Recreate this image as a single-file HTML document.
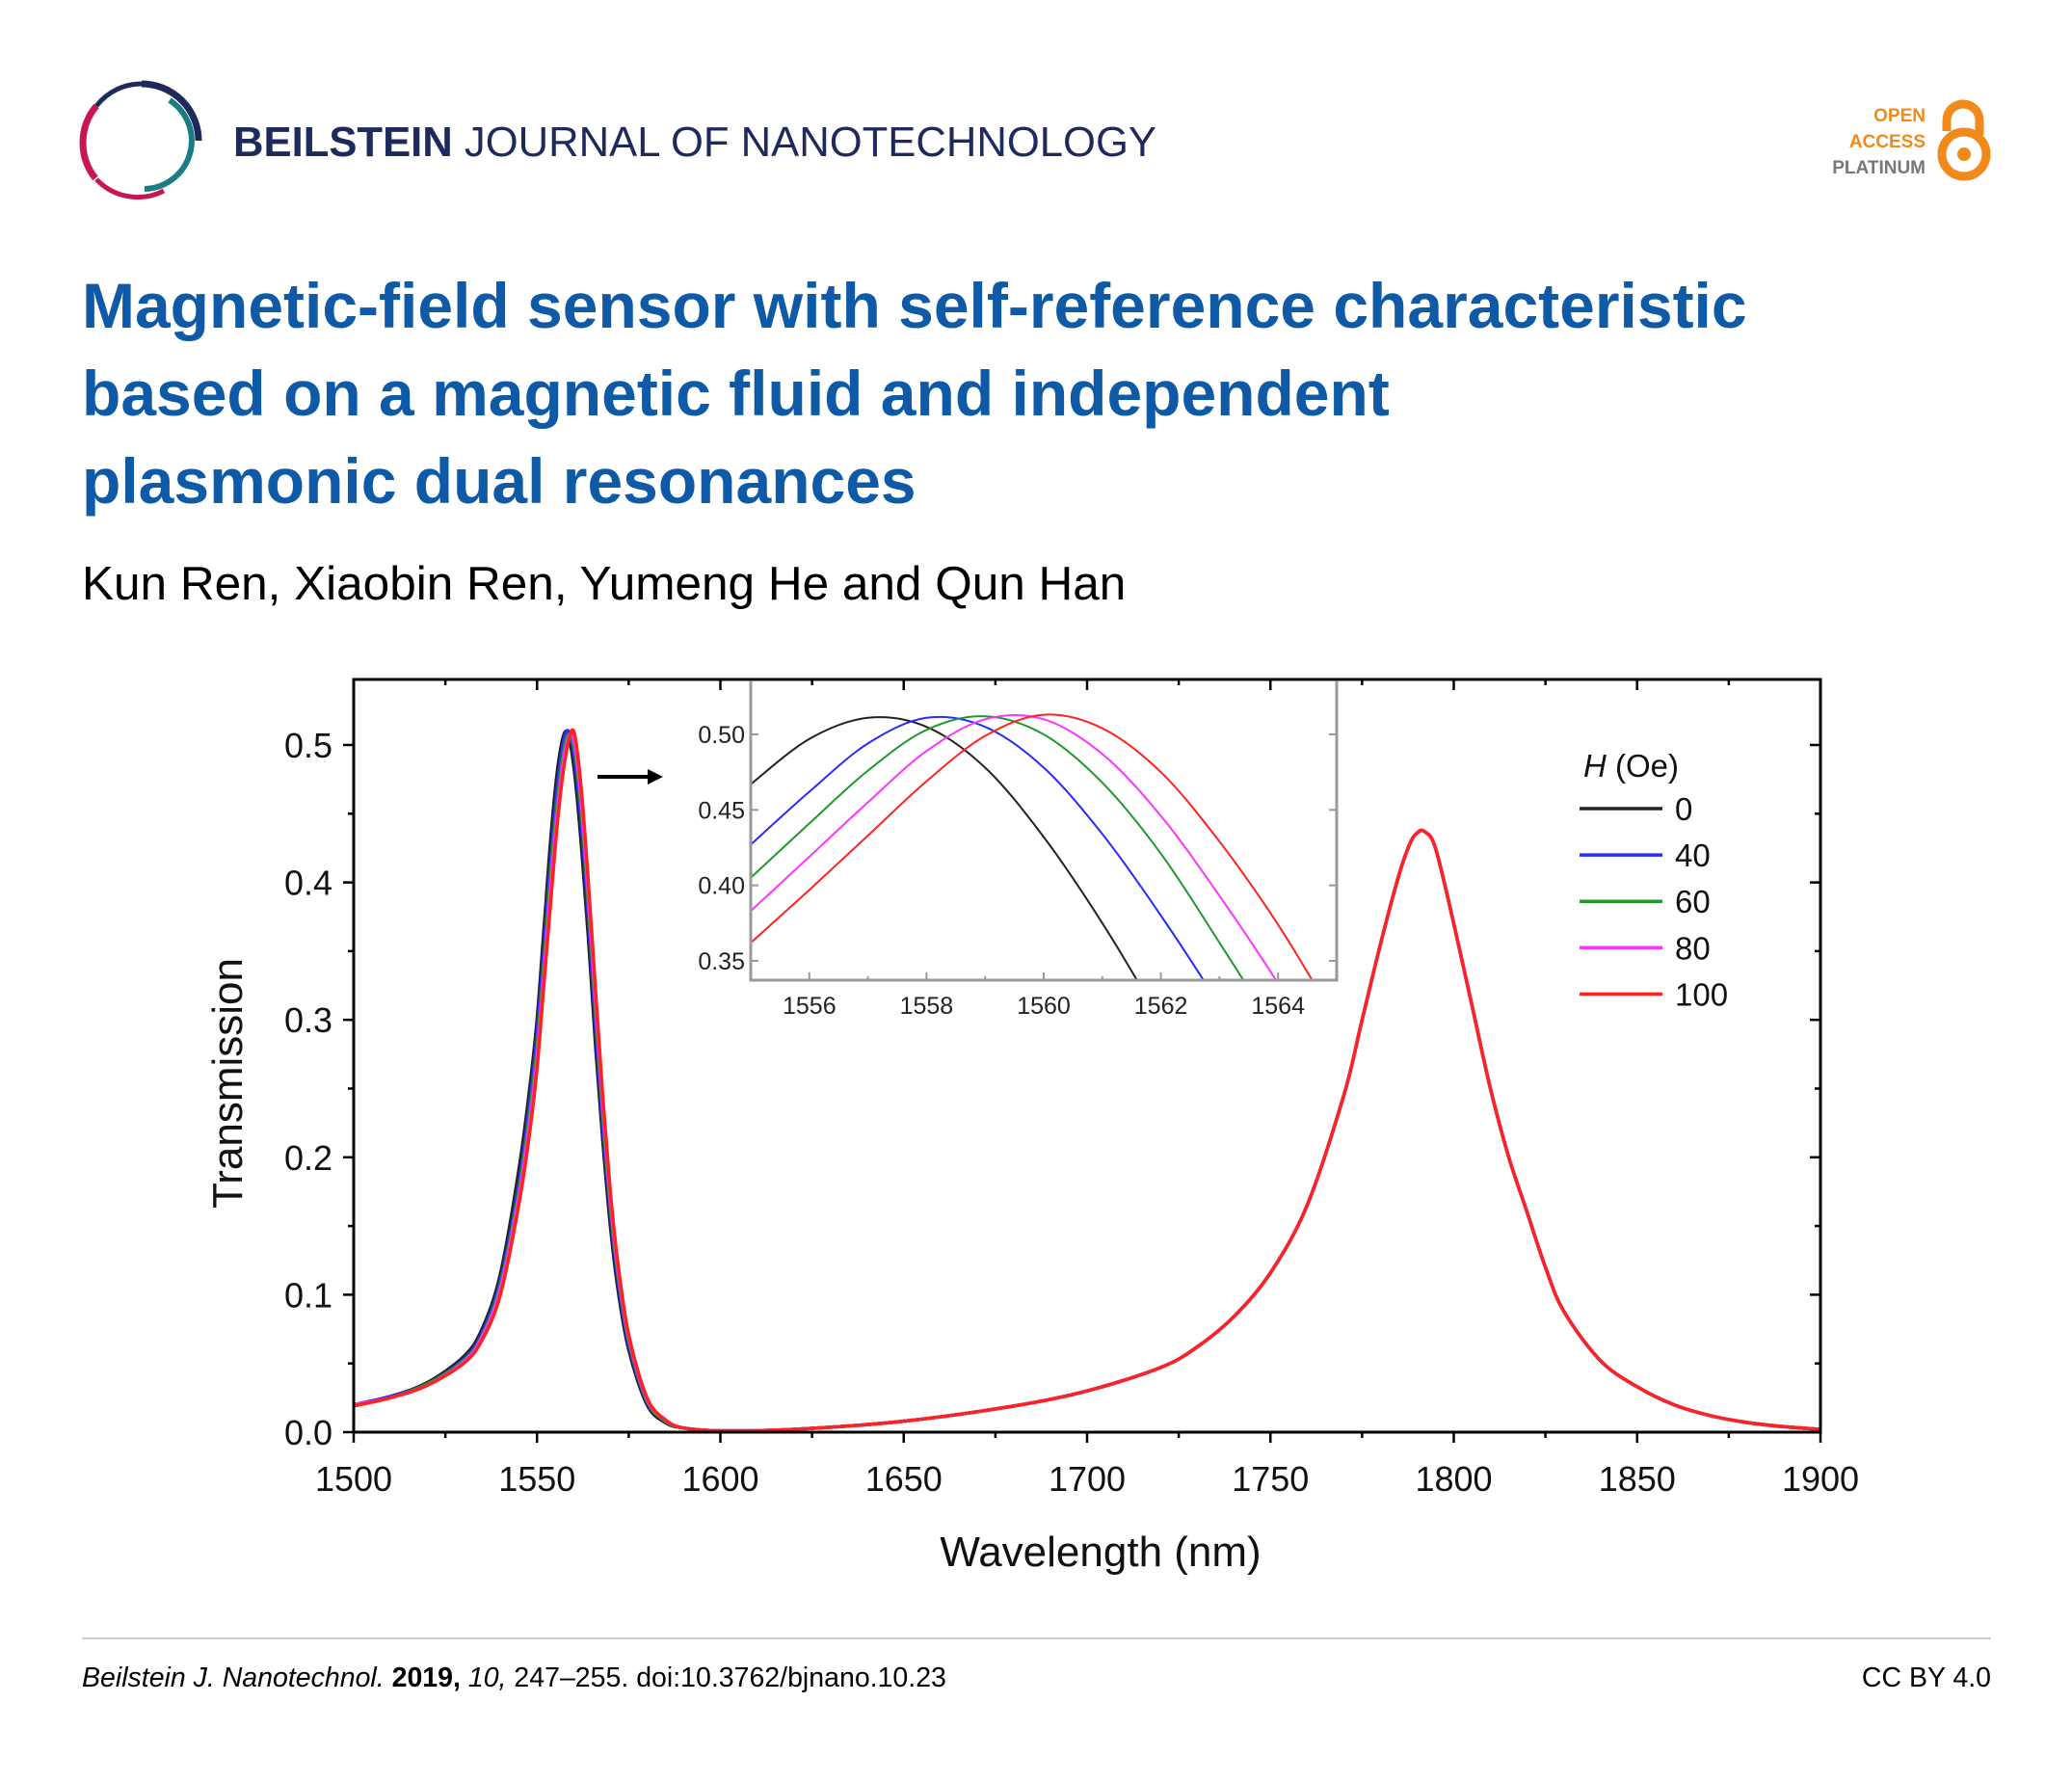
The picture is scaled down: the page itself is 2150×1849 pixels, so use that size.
<!DOCTYPE html>
<html><head><meta charset="utf-8"><style>
html,body{margin:0;padding:0;background:#fff;}
body{width:2150px;height:1849px;position:relative;overflow:hidden;font-family:"Liberation Sans",Arial,sans-serif;}
svg{position:absolute;left:0;top:0;}
</style></head><body>
<svg id="page" width="2150" height="1849" viewBox="0 0 2150 1849">
 <g>
  <path d="M147 87 A59 59 0 0 1 206 146" fill="none" stroke="#1f2a5c" stroke-width="7"/>
  <path d="M100 110 A59 59 0 0 1 147 87" fill="none" stroke="#1f2a5c" stroke-width="5"/>
  <path d="M99 185 A59 59 0 0 1 100 110" fill="none" stroke="#c8174e" stroke-width="7"/>
  <path d="M100 186 A59 59 0 0 0 170 198" fill="none" stroke="#c8174e" stroke-width="5"/>
  <path d="M176 104 A50 50 0 0 1 150 196" fill="none" stroke="#1b7d84" stroke-width="6"/>
 </g>
 <text x="242" y="162" font-size="44" fill="#1f2a5c" textLength="958" lengthAdjust="spacingAndGlyphs"><tspan font-weight="bold">BEILSTEIN</tspan> JOURNAL OF NANOTECHNOLOGY</text>
 <g>
  <text x="1998" y="126" font-size="19" font-weight="bold" fill="#f28a1b" text-anchor="end">OPEN</text>
  <text x="1998" y="153" font-size="19" font-weight="bold" fill="#f28a1b" text-anchor="end">ACCESS</text>
  <text x="1998" y="180" font-size="19" font-weight="bold" fill="#777" text-anchor="end">PLATINUM</text>
  <path d="M2020 136 V125 A17 17 0 0 1 2054 125 V140" fill="none" stroke="#f28a1b" stroke-width="9"/>
  <circle cx="2038" cy="160" r="23" fill="none" stroke="#f28a1b" stroke-width="9"/>
  <circle cx="2038" cy="160" r="7" fill="#f28a1b"/>
 </g>
 <g font-size="66" font-weight="bold" fill="#0e5aa7">
  <text x="85" y="340">Magnetic-field sensor with self-reference characteristic</text>
  <text x="85" y="431">based on a magnetic fluid and independent</text>
  <text x="85" y="522">plasmonic dual resonances</text>
 </g>
 <text x="85" y="622" font-size="49.5" fill="#000">Kun Ren, Xiaobin Ren, Yumeng He and Qun Han</text>

 <g id="chart"></g>

 <line x1="85" y1="1700" x2="2066" y2="1700" stroke="#ccc" stroke-width="2"/>
 <text x="85" y="1750" font-size="28.5" fill="#000"><tspan font-style="italic">Beilstein J. Nanotechnol.</tspan> <tspan font-weight="bold">2019,</tspan> <tspan font-style="italic">10,</tspan> 247–255. doi:10.3762/bjnano.10.23</text>
 <text x="2066" y="1750" font-size="28.5" fill="#000" text-anchor="end">CC BY 4.0</text>
</svg>
<script>
// ---- main chart data ----
const wl = [1500,1510,1520,1530,1535,1540,1545,1548,1550,1552,1554,1556,1558,1560,1562,1564,1566,1568,1570,1572,1575,1580,1585,1590,1600,1620,1650,1680,1700,1720,1730,1740,1750,1760,1770,1775,1780,1785,1788,1790,1792,1795,1800,1805,1810,1815,1820,1825,1830,1840,1850,1860,1870,1880,1890,1900];
const tail = [0.001,0.002,0.008,0.019,0.030,0.047,0.062,0.084,0.116,0.165,0.245,0.30,0.355,0.405,0.428,0.436,0.437,0.425,0.37,0.31,0.25,0.20,0.16,0.12,0.088,0.052,0.033,0.020,0.012,0.007,0.004,0.002];
const t0   = [0.020,0.026,0.036,0.055,0.075,0.115,0.19,0.25,0.30,0.37,0.44,0.49,0.51,0.485,0.43,0.36,0.28,0.21,0.15,0.105,0.060,0.020,0.007,0.003];
const t40  = [0.020,0.026,0.035,0.053,0.072,0.110,0.18,0.24,0.29,0.355,0.425,0.48,0.51,0.495,0.445,0.375,0.295,0.22,0.16,0.112,0.064,0.022,0.008,0.003];
const t60  = [0.020,0.025,0.035,0.052,0.070,0.107,0.175,0.232,0.28,0.345,0.415,0.47,0.505,0.50,0.455,0.385,0.305,0.23,0.165,0.117,0.067,0.023,0.008,0.003];
const t80  = [0.020,0.025,0.034,0.051,0.069,0.104,0.170,0.225,0.272,0.337,0.405,0.462,0.50,0.505,0.462,0.392,0.312,0.236,0.170,0.120,0.069,0.024,0.009,0.003];
const t100 = [0.019,0.025,0.034,0.050,0.067,0.100,0.165,0.218,0.265,0.33,0.395,0.455,0.495,0.51,0.47,0.40,0.32,0.242,0.175,0.124,0.071,0.025,0.009,0.003];
const seriesNames = ["0","40","60","80","100"];
const seriesColors = ["#222","#2a2aff","#1f9a2a","#ff33ff","#ff2222"];
const mainSeries = [t0.concat(tail),t40.concat(tail),t60.concat(tail),t80.concat(tail),t100.concat(tail)];
const xTicks = [1500,1550,1600,1650,1700,1750,1800,1850,1900];
const yTicks = [0.0,0.1,0.2,0.3,0.4,0.5];
// ---- inset data ----
const insetWl = [1555,1556,1557,1558,1559,1560,1561,1562,1563,1564,1565];
const i0   = [0.467,0.497,0.511,0.505,0.478,0.432,0.375,0.310,0.24,0.17,0.10];
const i40  = [0.427,0.462,0.494,0.511,0.505,0.478,0.434,0.380,0.320,0.25,0.18];
const i60  = [0.405,0.441,0.476,0.503,0.512,0.500,0.468,0.421,0.362,0.300,0.23];
const i80  = [0.383,0.419,0.455,0.489,0.510,0.510,0.487,0.446,0.393,0.335,0.27];
const i100 = [0.362,0.397,0.433,0.469,0.499,0.513,0.504,0.475,0.429,0.374,0.31];
const insetSeries = [i0,i40,i60,i80,i100];
const insetXTicks = [1556,1558,1560,1562,1564];
const insetYTicks = [0.35,0.40,0.45,0.50];

const NS="http://www.w3.org/2000/svg";
const chart=document.getElementById('chart');
function mk(tag,attrs,parent){const e=document.createElementNS(NS,tag);for(const k in attrs)e.setAttribute(k,attrs[k]);(parent||chart).appendChild(e);return e;}
function smooth(pts){let d="M"+pts[0][0].toFixed(1)+" "+pts[0][1].toFixed(1);
 for(let i=0;i<pts.length-1;i++){const p0=pts[i-1]||pts[i],p1=pts[i],p2=pts[i+1],p3=pts[i+2]||p2;
  const c1=[p1[0]+(p2[0]-p0[0])/6,p1[1]+(p2[1]-p0[1])/6],c2=[p2[0]-(p3[0]-p1[0])/6,p2[1]-(p3[1]-p1[1])/6];
  d+=" C"+c1[0].toFixed(1)+" "+c1[1].toFixed(1)+" "+c2[0].toFixed(1)+" "+c2[1].toFixed(1)+" "+p2[0].toFixed(1)+" "+p2[1].toFixed(1);}
 return d;}

// main axes
const L=367,R=1889,T=705,B=1486;
const X=v=>L+(v-1500)/400*(R-L);
const Y=v=>B-(v-0)/0.5*(B-773);
mainSeries.forEach((s,k)=>{
 const p=mk('path',{d:smooth(wl.map((w,i)=>[X(w),Y(s[i])])),fill:'none',stroke:seriesColors[k],'stroke-width':3.5,'stroke-linejoin':'round'});
 
 
});
const fr=mk('rect',{x:L,y:T,width:R-L,height:B-T,fill:'none',stroke:'#000','stroke-width':3});


for(let v=1500;v<=1900;v+=25){const maj=(v%50===0);const x=X(v);
 mk('line',{x1:x,y1:B,x2:x,y2:B+(maj?11:6),stroke:'#000','stroke-width':2.5});
 mk('line',{x1:x,y1:T,x2:x,y2:T+(maj?11:6),stroke:'#000','stroke-width':2.5});}
xTicks.forEach(v=>{const t=mk('text',{x:X(v),y:1547,'font-size':36,'text-anchor':'middle',fill:'#111'});t.textContent=v;
 
 });
for(let i=0;i<=11;i++){const v=i*0.05;const maj=(i%2===0);const y=Y(v);if(y<T)continue;
 mk('line',{x1:L,y1:y,x2:L-(maj?11:6),y2:y,stroke:'#000','stroke-width':2.5});
 mk('line',{x1:R,y1:y,x2:R-(maj?11:6),y2:y,stroke:'#000','stroke-width':2.5});}
yTicks.forEach(v=>{const t=mk('text',{x:345,y:Y(v)+13,'font-size':36,'text-anchor':'end',fill:'#111'});t.textContent=v.toFixed(1);
 
 });
const xt=mk('text',{x:1142,y:1625,'font-size':44,'text-anchor':'middle',fill:'#111'});xt.textContent="Wavelength (nm)";


const yt=mk('text',{x:0,y:0,'font-size':44,'text-anchor':'middle',fill:'#111',transform:'translate(251 1124) rotate(-90)'});yt.textContent="Transmission";


const ar=mk('g',{});


mk('line',{x1:620,y1:806,x2:674,y2:806,stroke:'#000','stroke-width':4},ar);
mk('polygon',{points:"688,806 672,798 672,814",fill:'#000'},ar);

// inset
const iL=779,iR=1387,iT=707,iB=1017;
const IX=v=>iL+(v-1555)/10*(iR-iL);
const IY=v=>997-(v-0.35)/0.15*(997-762);
mk('clipPath',{id:'ic'}).appendChild((()=>{const r=document.createElementNS(NS,'rect');r.setAttribute('x',iL);r.setAttribute('y',iT);r.setAttribute('width',iR-iL);r.setAttribute('height',iB-iT);return r;})());
const ig=mk('g',{'clip-path':'url(#ic)'});


insetSeries.forEach((s,k)=>{
 const p=mk('path',{d:smooth(insetWl.map((w,i)=>[IX(w),IY(s[i])])),fill:'none',stroke:seriesColors[k],'stroke-width':2},ig);
 
 
});
const ifr=mk('path',{d:`M${iL} ${iT} V${iB} H${iR} V${iT}`,fill:'none',stroke:'#999','stroke-width':3});


for(let v=1555;v<=1565;v+=1){const x=IX(v);mk('line',{x1:x,y1:iB,x2:x,y2:iB-(v%2===0?8:4),stroke:'#999','stroke-width':2});}
insetXTicks.forEach(v=>{const t=mk('text',{x:IX(v),y:1052,'font-size':25,'text-anchor':'middle',fill:'#222'});t.textContent=v;
 
 });
insetYTicks.forEach(v=>{const y=IY(v);mk('line',{x1:iL,y1:y,x2:iL+8,y2:y,stroke:'#999','stroke-width':2});mk('line',{x1:iR,y1:y,x2:iR-8,y2:y,stroke:'#999','stroke-width':2});
 const t=mk('text',{x:773,y:y+9,'font-size':25,'text-anchor':'end',fill:'#222'});t.textContent=v.toFixed(2);
 
 });

// legend
const lg=mk('g',{});


const lt=mk('text',{x:1643,y:806,'font-size':33,fill:'#111'},lg);lt.innerHTML='<tspan font-style="italic">H</tspan> (Oe)';
seriesNames.forEach((n,k)=>{const y=839+k*48.1;
 const e=mk('g',{},lg);
 
 
 mk('line',{x1:1639,y1:y,x2:1725,y2:y,stroke:seriesColors[k],'stroke-width':3.5},e);
 const t=mk('text',{x:1738,y:y+12,'font-size':33,fill:'#111'},e);t.textContent=n;});
</script>
</body></html>
